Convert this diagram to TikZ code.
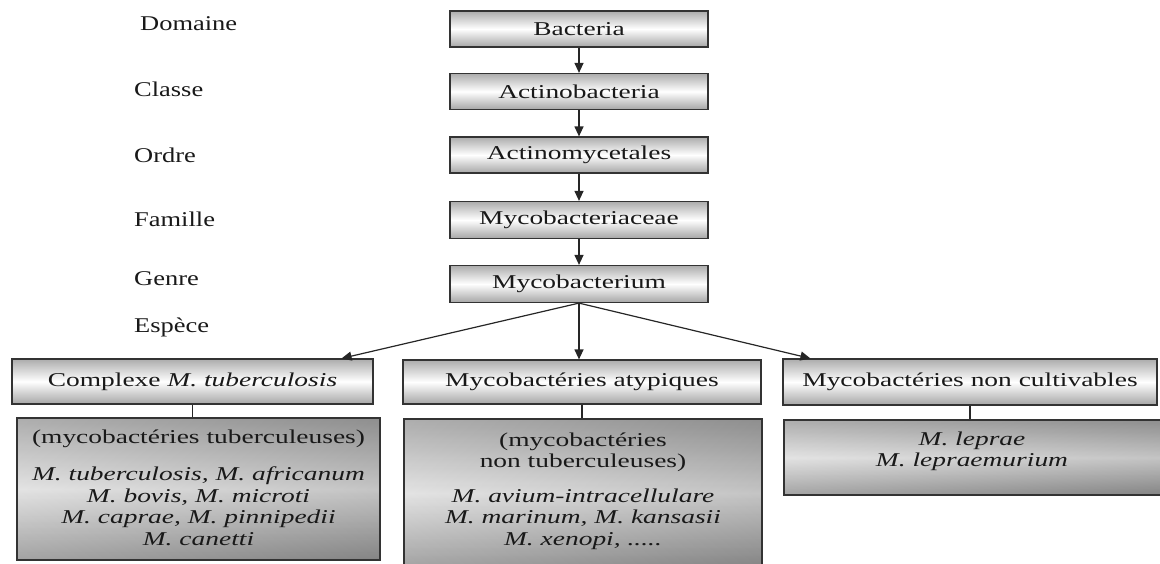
\documentclass[tikz,border=0pt]{standalone}
\usepackage{fontspec}
\setmainfont{Liberation Serif}[FakeStretch=1.4]
\newfontfamily\labfont{Liberation Serif}[FakeStretch=1.26]
\usetikzlibrary{arrows.meta,shadings,calc}
\tikzset{
  hbox/.style={draw=black!80, line width=1.2pt, rectangle, inner sep=0pt,
    top color=gray!65, bottom color=gray!70, middle color=white,
    text=black!90, font=\fontsize{19.6}{21}\selectfont},
  lbox/.style={draw=black!80, line width=1.2pt, rectangle, inner sep=0pt,
    top color=gray!55, bottom color=gray!65, middle color=white,
    path picture={\fill[left color=white, right color=black, opacity=0.12]
      (path picture bounding box.south west) rectangle (path picture bounding box.north east);}},
  boxtext/.style={align=center, text=black!90, font=\fontsize{19.6}{21.5}\selectfont, inner sep=0pt},
  ranklabel/.style={anchor=west, text=black!90, font=\labfont\fontsize{21}{24}\selectfont, inner sep=0pt},
  arr/.style={draw=black!85, line width=1.2pt, -{Triangle[length=10pt,width=9pt]}},
  link/.style={draw=black!85, line width=1.2pt}
}
\begin{document}
\begin{tikzpicture}[x=1pt,y=-1pt]
\useasboundingbox (0,0) rectangle (1160,563);
% rank labels
\node[ranklabel] (lDom) at (140,24) {Domaine};
\node[ranklabel] (lCla) at (134,89) {Classe};
\node[ranklabel] (lOrd) at (134,155) {Ordre};
\node[ranklabel] (lFam) at (134,219) {Famille};
\node[ranklabel] (lGen) at (134,279) {Genre};
\node[ranklabel] (lEsp) at (134,327) {Espèce};
% taxonomy chain
\node[hbox, minimum width=258pt, minimum height=36pt] (b1) at (579,29) {Bacteria};
\node[hbox, minimum width=258pt, minimum height=36pt] (b2) at (579,91.5) {Actinobacteria};
\node[hbox, minimum width=258pt, minimum height=36pt] (b3) at (579,155) {Actinomycetales};
\node[hbox, minimum width=258pt, minimum height=37pt] (b4) at (579,220) {Mycobacteriaceae};
\node[hbox, minimum width=258pt, minimum height=37pt] (b5) at (579,284) {Mycobacterium};
% group headers
\node[hbox, minimum width=361pt, minimum height=45pt] (hL) at (192.5,381.5) {Complexe \textit{M. tuberculosis}};
\node[hbox, minimum width=358pt, minimum height=44pt] (hM) at (582,382) {Mycobactéries atypiques};
\node[hbox, minimum width=374pt, minimum height=46pt] (hR) at (970,382) {Mycobactéries non cultivables};
% lower boxes
\node[lbox, minimum width=363pt, minimum height=142pt] (lL) at (198.5,489) {};
\node[lbox, minimum width=358pt, minimum height=148pt] (lM) at (583,493) {};
\node[lbox, minimum width=378pt, minimum height=75pt] (lR) at (973,457.5) {};
\node[boxtext] (tL) at (198.5,487.5) {(mycobactéries tuberculeuses)\\[16pt]
  \textit{M. tuberculosis, M. africanum}\\ \textit{M. bovis, M. microti}\\
  \textit{M. caprae, M. pinnipedii}\\ \textit{M. canetti}};
\node[boxtext] (tM) at (583,491) {(mycobactéries\\ non tuberculeuses)\\[13pt]
  \textit{M. avium-intracellulare}\\ \textit{M. marinum, M. kansasii}\\
  \textit{M. xenopi, .....}};
\node[boxtext] (tR) at (972,451.5) {\textit{M. leprae}\\ \textit{M. lepraemurium}};
% arrows
\draw[arr] (b1) -- (b2);
\draw[arr] (b2) -- (b3);
\draw[arr] (b3) -- (b4);
\draw[arr] (b4) -- (b5);
\draw[arr] (b5.south) -- ($(hL.north east)+(-32,0)$);
\draw[arr] (b5.south) -- (b5.south |- hM.north);
\draw[arr] (b5.south) -- ($(hR.north west)+(28,0)$);
% links
\draw[link] (hL.south) -- (hL.south |- lL.north);
\draw[link] (hM.south) -- (hM.south |- lM.north);
\draw[link] (hR.south) -- (hR.south |- lR.north);
\end{tikzpicture}
\end{document}
